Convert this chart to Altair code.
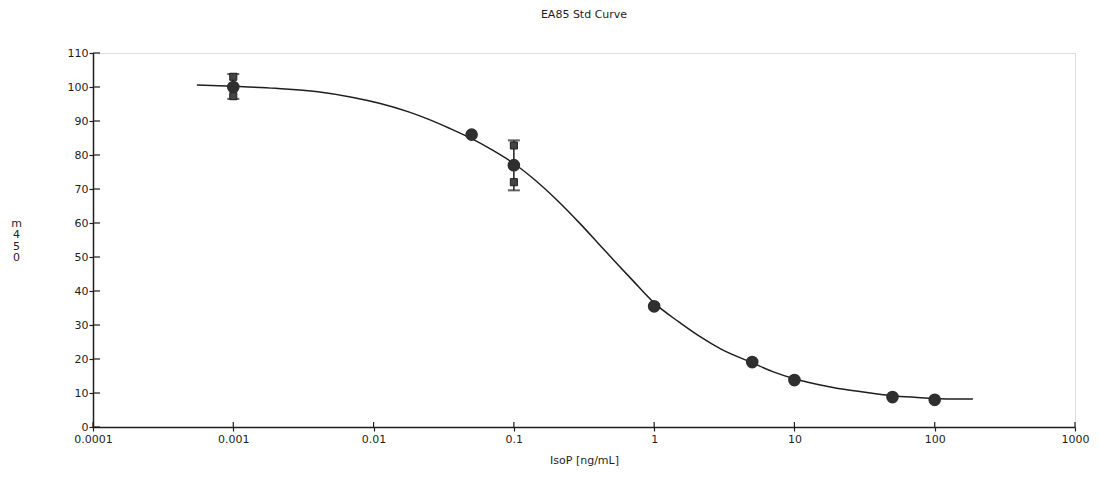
import altair as alt
import pandas as pd

# measured points (mean values)
conc = [0.001, 0.05, 0.1, 1, 5, 10, 50, 100]
mean_od = [100.0, 86.0, 77.0, 35.5, 19.1, 13.8, 8.8, 8.0]

# error bars (where visible)
err_conc = [0.001, 0.1]
err_low = [96.5, 69.6]
err_high = [103.8, 84.3]

# replicate markers (squares)
rep_conc = [0.001, 0.001, 0.1, 0.1]
rep_val = [103.0, 97.3, 82.8, 72.0]

# fitted curve
curve_x = [0.00055, 0.001, 0.002, 0.004, 0.007, 0.011, 0.018, 0.025, 0.035, 0.05,
           0.07, 0.1, 0.14, 0.2, 0.3, 0.4, 0.55, 0.7, 1.0, 1.5, 2.1, 3, 5, 7, 10,
           15, 20, 30, 50, 75, 100, 140, 187]
curve_y = [100.6, 100.2, 99.6, 98.6, 97.0, 95.2, 92.6, 90.4, 87.8, 84.8,
           81.5, 77.5, 72.8, 67.0, 59.6, 54.0, 47.8, 43.2, 36.5, 30.9, 26.7, 22.9, 18.9, 16.3, 14.2,
           12.4, 11.4, 10.4, 9.2, 8.7, 8.4, 8.25, 8.2]

x_ticks = [0.0001, 0.001, 0.01, 0.1, 1, 10, 100, 1000]
y_ticks = [0, 10, 20, 30, 40, 50, 60, 70, 80, 90, 100, 110]

W, H = 982, 374
FONT = "DejaVu Sans"
INK = "#1e1e1e"

pts = pd.DataFrame({"c": conc, "v": mean_od})
errs = pd.DataFrame({"c": err_conc, "lo": err_low, "hi": err_high})
reps = pd.DataFrame({"c": rep_conc, "v": rep_val})
curve = pd.DataFrame({"c": curve_x, "v": curve_y})
xt = pd.DataFrame({"c": x_ticks})
yt = pd.DataFrame({"v": y_ticks})

xscale = alt.Scale(type="log", domain=[0.0001, 1000], nice=False)
yscale = alt.Scale(domain=[0, 110], nice=False, zero=False)

xaxis = alt.Axis(values=x_ticks, format="~g", title="IsoP [ng/mL]", grid=False,
                 labelFont=FONT, labelFontSize=11, labelColor=INK, titleFont=FONT,
                 titleFontSize=11, titleFontWeight="normal", titleColor=INK,
                 domainColor=INK, domainWidth=1.5, tickColor=INK, tickSize=4,
                 tickWidth=1.2, labelPadding=2, titlePadding=10, labelFlush=False,
                 labelOverlap=False)
yaxis = alt.Axis(values=y_ticks, title=["m", "4", "5", "0"], grid=False,
                 labelFont=FONT, labelFontSize=11, labelColor=INK, titleFont=FONT,
                 titleFontSize=11, titleFontWeight="normal", titleColor=INK,
                 titleAngle=0, titleAlign="center", titleBaseline="top",
                 titleX=-77, titleY=164, titleLineHeight=11.5,
                 domainColor=INK, domainWidth=1.5, tickColor=INK, tickSize=4,
                 tickWidth=1.2, labelPadding=1, labelFlush=False, labelOverlap=False)


def X(field):
    return alt.X(field, type="quantitative", scale=xscale, axis=xaxis)


def Y(field):
    return alt.Y(field, type="quantitative", scale=yscale, axis=yaxis)


line = alt.Chart(curve).mark_line(color=INK, strokeWidth=1.5, interpolate="monotone").encode(
    x=X("c"), y=Y("v"))

bars = alt.Chart(errs).mark_rule(color=INK, strokeWidth=1.5).encode(
    x=X("c"), y=Y("lo"), y2="hi:Q")
cap_lo = alt.Chart(errs).mark_tick(color=INK, thickness=2, size=12, orient="horizontal").encode(
    x=X("c"), y=Y("lo"))
cap_hi = alt.Chart(errs).mark_tick(color=INK, thickness=2, size=12, orient="horizontal").encode(
    x=X("c"), y=Y("hi"))

squares = alt.Chart(reps).mark_square(size=50, color="#444444", opacity=1,
                                      stroke=INK, strokeWidth=1).encode(
    x=X("c"), y=Y("v"))

dots = alt.Chart(pts).mark_circle(size=160, color="#2f2f2f", opacity=1).encode(
    x=X("c"), y=Y("v"))

inner_y = alt.Chart(yt).mark_rule(color=INK, strokeWidth=1.2).encode(
    x=alt.value(0), x2=alt.value(7), y=Y("v"))
inner_x = alt.Chart(xt).mark_rule(color=INK, strokeWidth=1.2).encode(
    x=X("c"), y=alt.value(H), y2=alt.value(H - 5))

chart = alt.layer(line, inner_y, inner_x, bars, cap_lo, cap_hi, squares, dots).properties(
    width=W, height=H,
    title=alt.TitleParams("EA85 Std Curve", font=FONT, fontSize=11, fontWeight="normal",
                          color=INK, anchor="middle", offset=27),
    autosize=alt.AutoSizeParams(type="none"),
    padding={"left": 85, "top": 45, "right": 16, "bottom": 40},
).configure_view(stroke=None).configure(background="white")

chart.save("out.html", embed_options={"renderer": "svg", "actions": False})
